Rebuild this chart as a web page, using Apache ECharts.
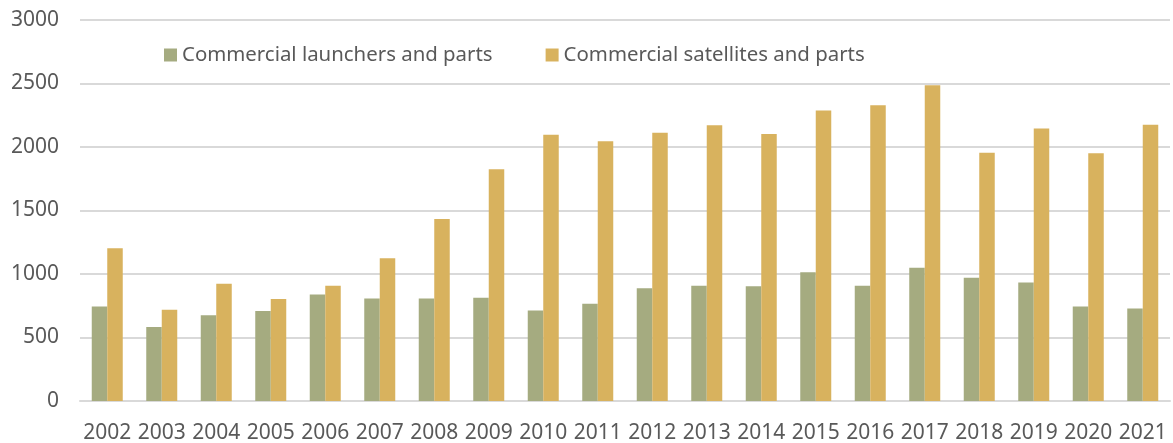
<!DOCTYPE html>
<html><head><meta charset="utf-8">
<script src="https://cdn.jsdelivr.net/npm/echarts@6/dist/echarts.min.js"></script>
<style>html,body{margin:0;padding:0;background:#fff}#c{width:1173px;height:443px}</style>
</head><body><div id="c"></div>
<script>
const years = ['2002','2003','2004','2005','2006','2007','2008','2009','2010','2011','2012','2013','2014','2015','2016','2017','2018','2019','2020','2021'];
const launchers = [745,582,676,708,839,808,808,813,713,766,887,908,903,1013,908,1050,971,934,745,729];
const satellites = [1203,718,924,803,908,1124,1434,1824,2097,2045,2113,2171,2103,2287,2329,2487,1955,2145,1950,2176];
const seriesNames = ['Commercial launchers and parts','Commercial satellites and parts'];
const font = 'Noto Sans';
const chart = echarts.init(document.getElementById('c'));
chart.setOption({
  animation:false,
  textStyle:{fontFamily:font},
  grid:{left:80,right:3,top:20,bottom:42,outerBoundsMode:'none'},
  legend:{
    left:159, top:40, itemWidth:13, itemHeight:13, itemGap:53,
    icon:'rect',
    textStyle:{fontFamily:font,fontSize:20.4,color:'#595959'},
    data:seriesNames
  },
  xAxis:{
    type:'category', data:years,
    axisLine:{lineStyle:{color:'#d9d9d9',width:2}},
    axisTick:{show:false},
    axisLabel:{fontFamily:font,fontSize:21,color:'#595959',margin:22,interval:0}
  },
  yAxis:{
    type:'value', min:0, max:3000, interval:500,
    axisLine:{show:false}, axisTick:{show:false},
    splitLine:{lineStyle:{color:'#d9d9d9',width:2}},
    axisLabel:{fontFamily:font,fontSize:21,color:'#595959',margin:21,formatter:function(v){return String(v);}}
  },
  series:[
    {name:seriesNames[0],type:'bar',data:launchers,barWidth:15.5,barGap:'0%',itemStyle:{color:'#a5ab80'}},
    {name:seriesNames[1],type:'bar',data:satellites,barWidth:15.5,barGap:'0%',itemStyle:{color:'#d8b25e'}}
  ]
});
</script></body></html>
